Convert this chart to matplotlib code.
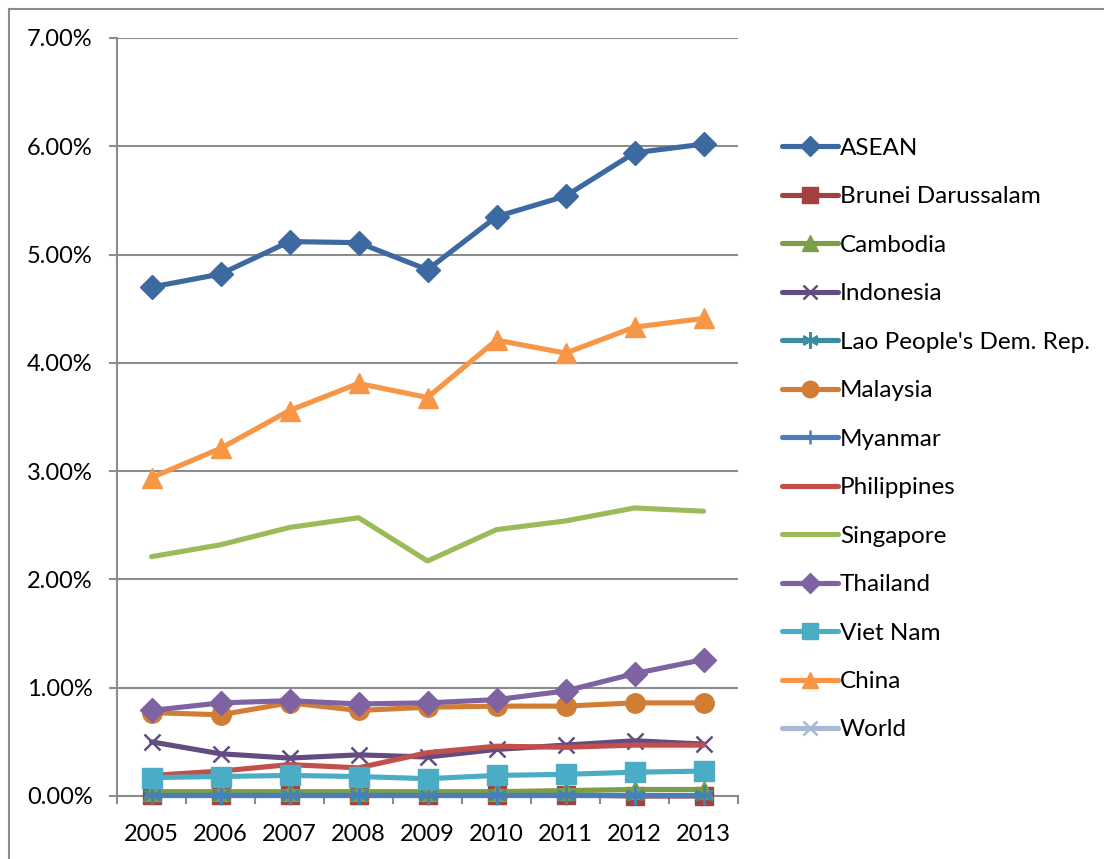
import matplotlib
matplotlib.use("Agg")
import matplotlib.pyplot as plt
from matplotlib.lines import Line2D
from matplotlib.ticker import FuncFormatter, FixedLocator
import numpy as np

plt.rcParams['font.family'] = ['Lato', 'DejaVu Sans']

# share of trade, % per year
years = ["2005", "2006", "2007", "2008", "2009", "2010", "2011", "2012", "2013"]

asean = [4.70, 4.82, 5.12, 5.11, 4.86, 5.35, 5.54, 5.94, 6.02]
brunei = [0.01, 0.01, 0.01, 0.01, 0.01, 0.01, 0.01, 0.00, 0.00]
cambodia = [0.04, 0.04, 0.04, 0.04, 0.04, 0.04, 0.05, 0.06, 0.06]
indonesia = [0.50, 0.39, 0.35, 0.38, 0.36, 0.43, 0.47, 0.51, 0.48]
lao = [0.01, 0.01, 0.01, 0.01, 0.01, 0.01, 0.01, 0.01, 0.01]
malaysia = [0.77, 0.75, 0.86, 0.79, 0.82, 0.83, 0.83, 0.86, 0.86]
myanmar = [0.01, 0.01, 0.01, 0.01, 0.01, 0.01, 0.01, 0.01, 0.01]
philippines = [0.19, 0.23, 0.29, 0.26, 0.40, 0.46, 0.45, 0.47, 0.47]
singapore = [2.21, 2.32, 2.48, 2.57, 2.17, 2.46, 2.54, 2.66, 2.63]
thailand = [0.79, 0.86, 0.88, 0.85, 0.86, 0.89, 0.97, 1.13, 1.26]
vietnam = [0.17, 0.18, 0.19, 0.18, 0.16, 0.19, 0.20, 0.22, 0.23]
china = [2.94, 3.21, 3.56, 3.81, 3.68, 4.21, 4.09, 4.33, 4.41]
# world total sits far above the 7% axis limit
world = [100.0, 100.0, 100.0, 100.0, 100.0, 100.0, 100.0, 100.0, 100.0]

series = [
    ("ASEAN", asean, "#3D69A1", "D", 12),
    ("Brunei Darussalam", brunei, "#A4403D", "s", 13),
    ("Cambodia", cambodia, "#7D9D47", "^", 13),
    ("Indonesia", indonesia, "#634C80", "x", 12),
    ("Lao People's Dem. Rep.", lao, "#3A8DA3", (6, 2, 0), 14),
    ("Malaysia", malaysia, "#D17D36", "o", 14),
    ("Myanmar", myanmar, "#4A7EBB", "+", 12),
    ("Philippines", philippines, "#C24F4C", None, 0),
    ("Singapore", singapore, "#9BBB59", None, 0),
    ("Thailand", thailand, "#7E62A1", "D", 12),
    ("Viet Nam", vietnam, "#4BACC6", "s", 14),
    ("China", china, "#F79646", "^", 14),
    ("World", world, "#A7B9D7", "x", 12),
]

fig = plt.figure(figsize=(11.04, 8.59), dpi=100)
ax = fig.add_axes([117 / 1104, 63 / 859, 621 / 1104, 758 / 859])

x = np.arange(len(years))
for i, (name, vals, color, marker, ms) in enumerate(series):
    ax.plot(x, vals, color=color, lw=3.7, marker=marker, markersize=ms,
            markeredgewidth=1.8 if marker in ("x", "+", (6, 2, 0)) else 1.0,
            markeredgecolor=color, markerfacecolor=color,
            solid_capstyle="round", solid_joinstyle="round",
            label=name, zorder=3 + i, clip_on=(name == "World"))

ax.set_xlim(-0.5, len(years) - 0.5)
ax.set_ylim(0, 7)
ax.set_yticks(np.arange(0, 8, 1))
ax.yaxis.set_major_formatter(FuncFormatter(lambda v, p: f"{v:.2f}%"))
ax.set_xticks(x)
ax.set_xticklabels(years)
ax.xaxis.set_minor_locator(FixedLocator(np.arange(-0.5, len(years), 1)))

grid_c = "#8C8C8C"
ax.grid(axis="y", color=grid_c, lw=1.5, zorder=0)
ax.set_axisbelow(True)
for s in ("top", "right"):
    ax.spines[s].set_visible(False)
ax.spines["left"].set_color(grid_c)
ax.spines["bottom"].set_color(grid_c)
ax.spines["left"].set_linewidth(1.5)
ax.spines["bottom"].set_linewidth(1.5)
ax.tick_params(axis="y", length=5.5, width=1.5, color=grid_c, labelsize=17, pad=12)
ax.tick_params(axis="x", which="major", length=0, labelsize=17, pad=20)
ax.tick_params(axis="x", which="minor", length=5.5, width=1.5, color=grid_c)

ax.legend(loc="upper left", bbox_to_anchor=(772 / 1104, 1 - 128 / 859),
          bbox_transform=fig.transFigure, frameon=False, fontsize=17.5,
          handlelength=2.3, handletextpad=0.1, labelspacing=1.13,
          borderaxespad=0, markerscale=0.85)

# chart border
fig.add_artist(Line2D([9 / 1104, 1.0], [1 - 9 / 859, 1 - 9 / 859],
                      transform=fig.transFigure, color="#8C8C8C", lw=1.5))
fig.add_artist(Line2D([9 / 1104, 9 / 1104], [0.0, 1 - 9 / 859],
                      transform=fig.transFigure, color="#8C8C8C", lw=1.5))

fig.savefig("out.png", dpi=100)
